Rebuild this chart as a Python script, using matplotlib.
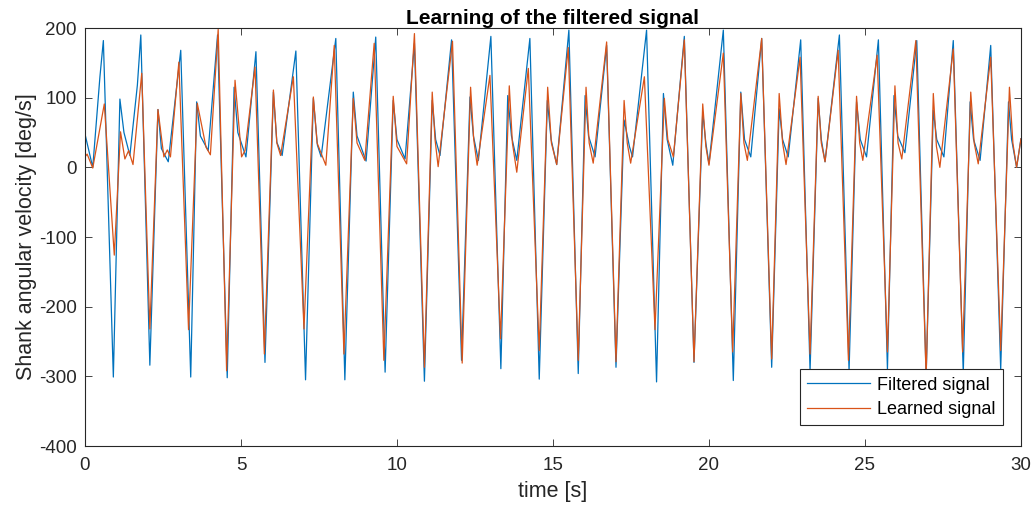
import numpy as np
import matplotlib.pyplot as plt

# key points (time [s], value [deg/s])
filt_t = [0, 0.25, 0.48, 0.59,
          0.91, 1.12, 1.25, 1.44, 1.68, 1.79,
          2.08, 2.34, 2.45, 2.67, 3.07,
          3.39, 3.58, 3.70, 3.95, 4.25,
          4.56, 4.78, 4.90, 5.16, 5.48,
          5.77, 6.04, 6.15, 6.32, 6.76,
          7.07, 7.32, 7.45, 7.57, 8.04,
          8.33, 8.60, 8.72, 9.01, 9.32,
          9.62, 9.88, 10.0, 10.26, 10.56,
          10.88, 11.13, 11.24, 11.38, 11.75,
          12.07, 12.34, 12.45, 12.61, 13.01,
          13.33, 13.55, 13.67, 13.84, 14.26,
          14.56, 14.82, 14.94, 15.12, 15.51,
          15.81, 16.03, 16.14, 16.35, 16.72,
          17.02, 17.28, 17.45, 17.55, 18.00,
          18.32, 18.54, 18.66, 18.84, 19.21,
          19.52, 19.80, 19.90, 20.00, 20.46,
          20.78, 21.02, 21.14, 21.34, 21.69,
          22.01, 22.25, 22.36, 22.54, 22.94,
          23.24, 23.50, 23.60, 23.72, 24.18,
          24.49, 24.73, 24.85, 25.05, 25.43,
          25.72, 25.93, 26.05, 26.28, 26.66,
          26.96, 27.19, 27.30, 27.53, 27.83,
          28.15, 28.37, 28.48, 28.69, 29.03,
          29.35, 29.60, 29.70, 29.86, 30.0]
filt_v = [48, 0, 130, 182,
          -301, 98, 50, 17, 118, 190,
          -284, 83, 27, 8, 168,
          -301, 94, 45, 24, 190,
          -302, 115, 50, 15, 166,
          -280, 108, 36, 17, 167,
          -305, 99, 32, 15, 185,
          -305, 108, 45, 9, 187,
          -294, 96, 40, 12, 178,
          -307, 96, 40, 17, 183,
          -277, 101, 45, 10, 188,
          -289, 103, 45, 10, 185,
          -304, 96, 40, 4, 197,
          -296, 103, 45, 15, 175,
          -287, 68, 30, 15, 197,
          -308, 106, 40, 3, 188,
          -280, 79, 35, 5, 197,
          -306, 108, 40, 15, 185,
          -287, 84, 40, 15, 183,
          -292, 99, 40, 8, 190,
          -292, 94, 40, 15, 183,
          -290, 103, 45, 21, 182,
          -300, 82, 40, 15, 182,
          -295, 94, 40, 10, 175,
          -290, 94, 40, 0, 41]

learn_t = [0, 0.07, 0.25, 0.62,
           0.94, 1.14, 1.28, 1.40, 1.54, 1.82,
           2.08, 2.34, 2.53, 2.64, 2.74, 3.01,
           3.32, 3.60, 3.88, 4.02, 4.27,
           4.54, 4.81, 5.02, 5.13, 5.45,
           5.75, 6.04, 6.15, 6.27, 6.68,
           7.02, 7.32, 7.44, 7.72, 7.99,
           8.30, 8.60, 8.72, 8.97, 9.27,
           9.58, 9.88, 10.0, 10.31, 10.56,
           10.88, 11.13, 11.22, 11.32, 11.78,
           12.09, 12.36, 12.46, 12.57, 12.98,
           13.32, 13.60, 13.70, 13.84, 14.21,
           14.56, 14.83, 14.95, 15.12, 15.49,
           15.81, 16.06, 16.16, 16.29, 16.72,
           17.02, 17.28, 17.38, 17.49, 17.93,
           18.27, 18.57, 18.68, 18.86, 19.21,
           19.52, 19.80, 19.90, 20.00, 20.46,
           20.76, 21.02, 21.12, 21.23, 21.69,
           22.01, 22.25, 22.36, 22.47, 22.92,
           23.24, 23.50, 23.60, 23.72, 24.14,
           24.47, 24.73, 24.83, 24.93, 25.39,
           25.72, 25.96, 26.06, 26.18, 26.63,
           26.96, 27.19, 27.29, 27.40, 27.83,
           28.13, 28.39, 28.50, 28.63, 29.03,
           29.35, 29.63, 29.74, 29.86, 30.0]
learn_v = [15, 19, -1, 91,
           -126, 51, 12, 24, 4, 135,
           -232, 83, 15, 25, 15, 151,
           -233, 92, 29, 18, 198,
           -292, 125, 15, 24, 144,
           -268, 111, 35, 17, 130,
           -232, 101, 35, 3, 175,
           -268, 99, 35, 10, 178,
           -277, 102, 30, 5, 192,
           -287, 108, 40, 1, 181,
           -281, 115, 40, 3, 132,
           -246, 117, 35, -7, 142,
           -263, 115, 35, 4, 172,
           -277, 115, 35, 6, 180,
           -279, 96, 35, 6, 130,
           -233, 99, 40, 15, 183,
           -279, 91, 30, 3, 164,
           -265, 106, 35, 10, 185,
           -275, 106, 35, 4, 158,
           -268, 102, 35, 8, 168,
           -277, 102, 35, 10, 161,
           -265, 117, 35, 12, 182,
           -300, 106, 30, 0, 170,
           -265, 108, 35, 5, 158,
           -263, 115, 35, 0, 41]

x_ticks = [0, 5, 10, 15, 20, 25, 30]
y_ticks = [-400, -300, -200, -100, 0, 100, 200]

plt.rcParams['font.family'] = ['Liberation Sans', 'DejaVu Sans']
plt.rcParams['axes.unicode_minus'] = False

fig = plt.figure(figsize=(10.36, 5.13), dpi=100)
ax = fig.add_axes([0.082, 0.1306, 0.9035, 0.8148])

ax.plot(filt_t, filt_v, color='#0072BD', linewidth=0.9, label='Filtered signal')
ax.plot(learn_t, learn_v, color='#D95319', linewidth=0.9, label='Learned signal')

ax.set_xlim(0, 30)
ax.set_ylim(-400, 200)
ax.set_xticks(x_ticks)
ax.set_yticks(y_ticks)
ax.tick_params(direction='in', top=True, right=True, labelsize=13.5, colors='#262626',
               length=5, width=0.6)
ax.tick_params(axis='x', pad=8)
ax.tick_params(axis='y', pad=6)
for s in ax.spines.values():
    s.set_color('#262626')
    s.set_linewidth(0.8)

ax.set_title('Learning of the filtered signal', fontsize=15, fontweight='bold', pad=3)
ax.set_xlabel('time [s]', fontsize=15.5, color='#262626', labelpad=5)
ax.set_ylabel('Shank angular velocity [deg/s]', fontsize=15.5, color='#262626', labelpad=1)

leg = ax.legend(loc='lower right', bbox_to_anchor=(0.981, 0.05), borderaxespad=0,
                fontsize=13, fancybox=False, framealpha=1, edgecolor='#262626',
                handlelength=3.5, borderpad=0.4, labelspacing=0.4, handletextpad=0.4)
leg.get_frame().set_linewidth(0.8)

fig.savefig('out.png', dpi=100)
